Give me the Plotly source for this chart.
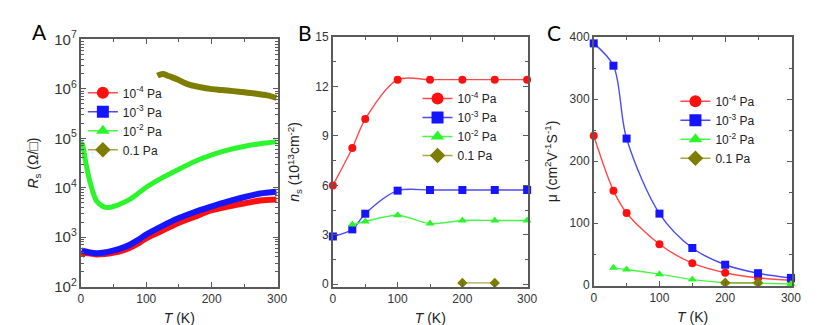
import plotly.graph_objects as go

# ---------------- Panel A: sheet resistance vs T (log scale) ----------------
TA_red = [1, 5, 12, 24, 36, 49, 62, 74, 87, 99, 124, 149, 174, 199, 224, 249, 274, 299]
RA_red = [416, 470, 470, 448, 458, 483, 530, 601, 740, 933, 1340, 1930, 2590, 3470, 4140, 4790, 5530, 5780]
TA_blue = [1, 5, 12, 24, 36, 49, 62, 74, 87, 99, 124, 149, 174, 199, 224, 249, 274, 299]
RA_blue = [540, 520, 495, 474, 490, 535, 600, 695, 870, 1110, 1670, 2400, 3230, 4140, 5220, 6410, 7640, 8300]
TA_green = [2, 4, 6, 8, 11, 14, 18, 24, 34, 44, 54, 64, 74, 86, 99, 124, 149, 174, 199, 224, 249, 274, 299]
RA_green = [80000, 60000, 42000, 30000, 19000, 13000, 8500, 5400, 4140, 4000, 4330, 4950, 5760, 7400, 10000, 15800, 23400,
            33900, 45700, 57500, 68400, 77600, 85000]
TA_olive = [117, 121, 126, 135, 148, 158, 168, 183, 198, 215, 233, 250, 268, 285, 299]
RA_olive = [1.85e6, 1.95e6, 2.0e6, 1.8e6, 1.55e6, 1.33e6, 1.19e6, 1.08e6, 1.0e6, 9.5e5, 9.0e5, 8.5e5, 8.0e5, 7.4e5, 6.6e5]

# ---------------- Panel B: carrier density ----------------
TB_red = [0, 30, 50, 100, 150, 200, 250, 300]
NB_red = [6.0, 8.27, 10.03, 12.42, 12.42, 12.42, 12.42, 12.42]
TB_blue = [0, 30, 50, 100, 150, 200, 250, 300]
NB_blue = [2.9, 3.33, 4.28, 5.68, 5.72, 5.72, 5.72, 5.72]
TB_green = [30, 50, 100, 150, 200, 250, 300]
NB_green = [3.62, 3.81, 4.19, 3.68, 3.87, 3.87, 3.87]
TB_olive = [200, 250]
NB_olive = [0.08, 0.08]

# ---------------- Panel C: mobility ----------------
TC_red = [0, 30, 50, 100, 150, 200, 250, 300]
MC_red = [241, 152.5, 116.5, 66, 35.5, 20, 11.7, 8]
TC_blue = [0, 30, 50, 100, 150, 200, 250, 300]
MC_blue = [390, 354, 236.5, 115.4, 60, 33, 19.3, 11.7]
TC_green = [30, 50, 100, 150, 200, 250, 300]
MC_green = [28, 25.4, 17.8, 9, 4, 3, 2]
TC_olive = [200, 250]
MC_olive = [4, 4]

legend_names = ["10<sup>-4</sup> Pa", "10<sup>-3</sup> Pa", "10<sup>-2</sup> Pa", "0.1 Pa"]
mark_col = ["#ff1010", "#1515ff", "#2cf52c", "#7d7d00"]
line_col = ["#ff4a4a", "#4a4aff", "#4af54a", "#aaa450"]
symbols = ["circle", "square", "triangle-up", "diamond"]

fig = go.Figure()

# Panel A bands (dense measurements drawn as thick bands)
A_sets = [(TA_red, RA_red), (TA_blue, RA_blue), (TA_green, RA_green), (TA_olive, RA_olive)]
A_width = [6, 6, 5, 6]
for i, (tx, ry) in enumerate(A_sets):
    fig.add_trace(go.Scatter(x=tx, y=ry, mode="lines",
                             line=dict(color=mark_col[i], width=A_width[i], shape="spline", smoothing=0.8),
                             showlegend=False, xaxis="x", yaxis="y", cliponaxis=False, hoverinfo="skip"))
# green triangles visible at low T
fig.add_trace(go.Scatter(x=TA_green[:9], y=RA_green[:9], mode="markers",
                         marker=dict(symbol="triangle-up", size=5, color=mark_col[2]),
                         showlegend=False, xaxis="x", yaxis="y", cliponaxis=False, hoverinfo="skip"))

B_sets = [(TB_red, NB_red), (TB_blue, NB_blue), (TB_green, NB_green), (TB_olive, NB_olive)]
C_sets = [(TC_red, MC_red), (TC_blue, MC_blue), (TC_green, MC_green), (TC_olive, MC_olive)]
for sets, xa, ya in [(B_sets, "x2", "y2"), (C_sets, "x3", "y3")]:
    for i, (tx, vy) in enumerate(sets):
        fig.add_trace(go.Scatter(x=tx, y=vy, mode="lines+markers",
                                 line=dict(color=line_col[i], width=1.4, shape="spline", smoothing=0.9),
                                 marker=dict(symbol=symbols[i], size=8, color=mark_col[i]),
                                 showlegend=False, xaxis=xa, yaxis=ya, cliponaxis=False))

# legend entries for each panel
for leg, xa, ya in [("legend", "x", "y"), ("legend2", "x2", "y2"), ("legend3", "x3", "y3")]:
    for i in range(4):
        fig.add_trace(go.Scatter(x=[None], y=[None], mode="lines+markers", name=legend_names[i],
                                 line=dict(color=line_col[i], width=1.4),
                                 marker=dict(symbol=symbols[i], size=12, color=mark_col[i]),
                                 legend=leg, xaxis=xa, yaxis=ya))

axis_common = dict(showline=True, linecolor="#5a5a5a", linewidth=1.5, mirror="ticks",
                   ticks="inside", ticklen=5, tickcolor="#5a5a5a", tickwidth=1.2,
                   showgrid=False, zeroline=False,
                   tickfont=dict(family="Liberation Sans, Arial", size=12, color="#333333"))
title_font = dict(family="Liberation Sans, Arial", size=14, color="#222222")

xdomA = [71 / 830, 271 / 830]
xdomB = [327 / 830, 525 / 830]
xdomC = [592 / 830, 793 / 830]

def xaxis(dom, anchor):
    return dict(domain=dom, anchor=anchor, range=[0, 301], tickvals=[0, 100, 200, 300],
                minor=dict(ticks="inside", ticklen=3, tickvals=[50, 150, 250], tickcolor="#5a5a5a"),
                title=dict(text="<i>T</i> (K)", font=title_font, standoff=8), **axis_common)

leg_font = dict(family="Liberation Sans, Arial", size=12, color="#222222")
fig.update_layout(
    width=830, height=325, margin=dict(l=0, r=0, t=0, b=0),
    paper_bgcolor="white", plot_bgcolor="white",
    xaxis=xaxis(xdomA, "y"),
    xaxis2=xaxis(xdomB, "y2"),
    xaxis3=xaxis(xdomC, "y3"),
    yaxis=dict(domain=[1 - 284.2 / 325, 1 - 21.7 / 325], anchor="x", type="log", range=[2, 7], dtick=1,
               exponentformat="power", showexponent="all",
               minor=dict(ticks="inside", ticklen=3, dtick="D1", tickcolor="#5a5a5a"),
               title=dict(text="<i>R</i><sub>s</sub> (Ω/□)", font=title_font, standoff=12), **axis_common),
    yaxis2=dict(domain=[1 - 284.3 / 325, 1 - 19.3 / 325], anchor="x2", range=[-0.15, 15],
                tickvals=[0, 3, 6, 9, 12, 15],
                minor=dict(ticks="inside", ticklen=3, tickvals=[1.5, 4.5, 7.5, 10.5, 13.5], tickcolor="#5a5a5a"),
                title=dict(text="<i>n</i><sub>s</sub> (10<sup>13</sup>cm<sup>-2</sup>)", font=title_font, standoff=12),
                **axis_common),
    yaxis3=dict(domain=[1 - 283.3 / 325, 1 - 19.3 / 325], anchor="x3", range=[-0.9, 400],
                tickvals=[0, 100, 200, 300, 400],
                minor=dict(ticks="inside", ticklen=3, tickvals=[50, 150, 250, 350], tickcolor="#5a5a5a"),
                title=dict(text="μ (cm<sup>2</sup>V<sup>-1</sup>S<sup>-1</sup>)", font=title_font, standoff=9),
                **axis_common),
    legend=dict(x=73 / 830, y=1 - 63 / 325, xanchor="left", yanchor="top", bgcolor="rgba(0,0,0,0)",
                font=leg_font),
    legend2=dict(x=413 / 830, y=1 - 69 / 325, xanchor="left", yanchor="top", bgcolor="rgba(0,0,0,0)",
                 font=leg_font),
    legend3=dict(x=675 / 830, y=1 - 72 / 325, xanchor="left", yanchor="top", bgcolor="rgba(0,0,0,0)",
                 font=leg_font),
    showlegend=True,
)

for letter, px, py in [("A", 29, 13.5), ("B", 299, 14), ("C", 552, 14)]:
    fig.add_annotation(text=letter, x=px / 830, y=1 - py / 325, xref="paper", yref="paper",
                       showarrow=False, xanchor="center", yanchor="middle",
                       font=dict(family="Lato, Open Sans", size=21, color="black"))

fig.write_html("out.html")
